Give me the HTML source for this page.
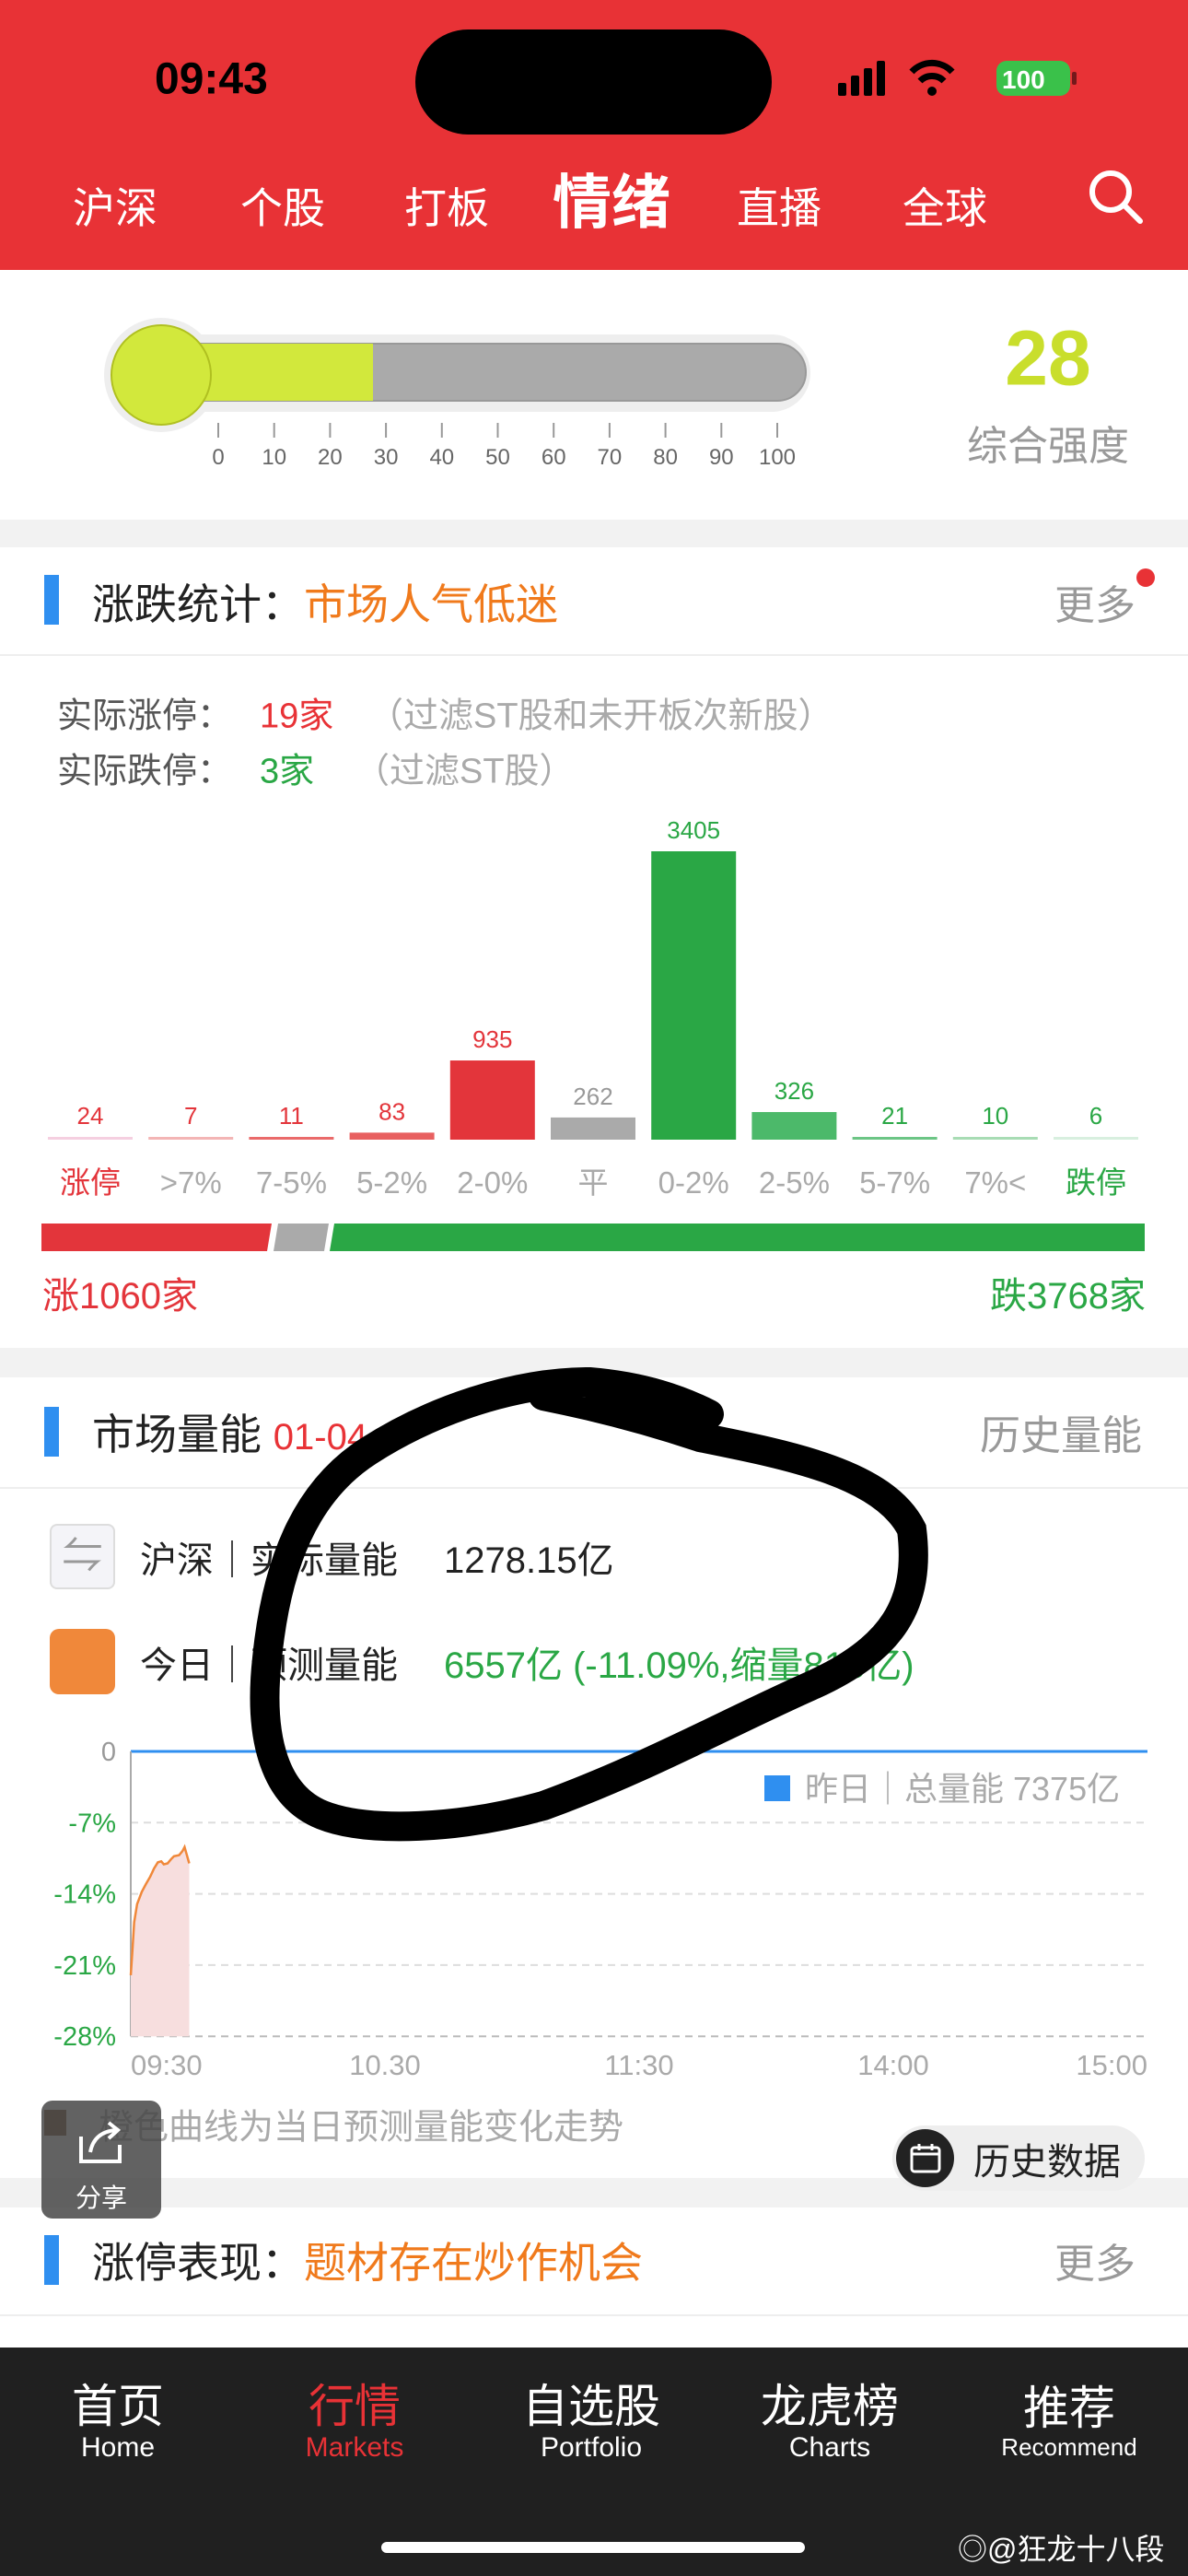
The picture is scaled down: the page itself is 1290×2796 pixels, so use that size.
<!DOCTYPE html>
<html><head><meta charset="utf-8">
<style>
*{margin:0;padding:0;box-sizing:border-box}
body{width:1290px;height:2796px;position:relative;overflow:hidden;background:#f2f2f2;font-family:"Liberation Sans","Noto Sans CJK SC",sans-serif}
.a{position:absolute;white-space:nowrap}
.card{position:absolute;left:0;width:1290px;background:#fff}
.vc{transform:translateY(-50%)}
.cc{transform:translate(-50%,-50%)}
</style></head><body>
<div class="a" style="left:0;top:0;width:1290px;height:293px;background:#e83236"></div>
<div class="a vc" style="left:168px;top:86px;font-size:48px;font-weight:bold;color:#000">09:43</div>
<div class="a" style="left:451px;top:32px;width:387px;height:114px;border-radius:57px;background:#000"></div>
<svg class="a" style="left:910px;top:62px" width="270" height="50">
<rect x="0" y="28" width="9" height="14" rx="2" fill="#000"/><rect x="14" y="20" width="9" height="22" rx="2" fill="#000"/><rect x="28" y="12" width="9" height="30" rx="2" fill="#000"/><rect x="42" y="4" width="9" height="38" rx="2" fill="#000"/>
<path d="M80 16 A30 30 0 0 1 124 16" stroke="#000" stroke-width="7" fill="none"/><path d="M89 26 A18 18 0 0 1 115 26" stroke="#000" stroke-width="7" fill="none"/><circle cx="102" cy="37" r="5" fill="#000"/>
<rect x="172" y="4" width="80" height="38" rx="11" fill="#3ac14a"/><rect x="254" y="16" width="5" height="14" rx="2" fill="#000" opacity=".5"/>
<text x="178" y="34" font-size="28" font-weight="bold" fill="#fff" font-family="Liberation Sans">100</text></svg>
<div class="a cc" style="left:125px;top:223px;font-size:46px;color:#fff">沪深</div>
<div class="a cc" style="left:307px;top:223px;font-size:46px;color:#fff">个股</div>
<div class="a cc" style="left:485px;top:223px;font-size:46px;color:#fff">打板</div>
<div class="a cc" style="left:664px;top:215px;font-size:64px;font-weight:bold;color:#fff">情绪</div>
<div class="a cc" style="left:846px;top:223px;font-size:46px;color:#fff">直播</div>
<div class="a cc" style="left:1026px;top:223px;font-size:46px;color:#fff">全球</div>
<svg class="a" style="left:1178px;top:180px" width="70" height="70"><circle cx="28" cy="28" r="20" stroke="#fff" stroke-width="6" fill="none"/><line x1="43" y1="43" x2="60" y2="60" stroke="#fff" stroke-width="6" stroke-linecap="round"/></svg>

<div class="card" style="top:293px;height:271px"></div>
<svg class="a" style="left:0;top:293px" width="1000" height="240">
<rect x="168" y="70" width="712" height="84" rx="42" fill="#eee"/>
<circle cx="175" cy="114" r="62" fill="#eee"/>
<rect x="175" y="80" width="700" height="62" rx="31" fill="#aaa" stroke="#999" stroke-width="2"/>
<rect x="175" y="80" width="230" height="62" fill="#d2e83c"/>
<circle cx="175" cy="114" r="54" fill="#d2e83c" stroke="#b0c020" stroke-width="2"/>
<g id="ticks"></g>
</svg>
<div class="a cc" style="left:1138px;top:389px;font-size:84px;font-weight:bold;color:#c9de2c">28</div>
<div class="a cc" style="left:1138px;top:480px;font-size:44px;color:#999">综合强度</div>

<div class="card" style="top:594px;height:869px"></div>
<div class="a" style="left:48px;top:624px;width:16px;height:54px;background:#2f8ff0"></div>
<div class="a vc" style="left:100px;top:653px;font-size:46px;color:#222">涨跌统计：<span style="color:#f07a1c">市场人气低迷</span></div>
<div class="a vc" style="left:1145px;top:653px;font-size:44px;color:#999">更多</div>
<div class="a" style="left:1234px;top:617px;width:20px;height:20px;border-radius:10px;background:#e83236"></div>
<div class="a" style="left:0;top:710px;width:1290px;height:2px;background:#eee"></div>
<div class="a vc" style="left:62px;top:773px;font-size:38px;color:#555">实际涨停：</div>
<div class="a vc" style="left:282px;top:773px;font-size:38px;color:#e83236">19家</div>
<div class="a vc" style="left:400px;top:773px;font-size:38px;color:#aaa">（过滤ST股和未开板次新股）</div>
<div class="a vc" style="left:62px;top:833px;font-size:38px;color:#555">实际跌停：</div>
<div class="a vc" style="left:282px;top:833px;font-size:38px;color:#2aa745">3家</div>
<div class="a vc" style="left:385px;top:833px;font-size:38px;color:#aaa">（过滤ST股）</div>
<svg class="a" id="bars" style="left:0;top:880px" width="1290" height="440"></svg>
<div class="a" style="left:45px;top:1328px;width:1198px;height:30px">
<svg width="1198" height="30"><polygon points="0,0 250,0 245,30 0,30" fill="#e3353b"/><polygon points="257,0 312,0 307,30 252,30" fill="#aaa"/><polygon points="318,0 1198,0 1198,30 313,30" fill="#2aa745"/></svg></div>
<div class="a vc" style="left:46px;top:1403px;font-size:40px;color:#e3353b">涨1060家</div>
<div class="a vc" style="right:46px;top:1403px;font-size:40px;color:#2aa745">跌3768家</div>

<div class="card" style="top:1495px;height:869px"></div>
<div class="a" style="left:48px;top:1527px;width:16px;height:54px;background:#2f8ff0"></div>
<div class="a vc" style="left:100px;top:1554px;font-size:46px;color:#222">市场量能 <span style="color:#e83236;font-size:40px">01-04</span></div>
<div class="a vc" style="right:50px;top:1554px;font-size:44px;color:#999">历史量能</div>
<div class="a" style="left:0;top:1614px;width:1290px;height:2px;background:#eee"></div>
<div class="a" style="left:54px;top:1654px;width:71px;height:71px;border:2px solid #ddd;border-radius:8px;background:#f4f4f8;color:#999;font-size:44px;text-align:center;line-height:66px">⇋</div>
<div class="a vc" style="left:152px;top:1690px;font-size:40px;color:#222">沪深｜实际量能</div>
<div class="a vc" style="left:482px;top:1690px;font-size:40px;color:#222">1278.15亿</div>
<div class="a" style="left:54px;top:1768px;width:71px;height:71px;border-radius:10px;background:#f0883a"></div>
<div class="a vc" style="left:152px;top:1804px;font-size:40px;color:#222">今日｜预测量能</div>
<div class="a vc" style="left:482px;top:1804px;font-size:40px;color:#2aa745">6557亿 (-11.09%,缩量818亿)</div>
<svg class="a" id="line" style="left:0;top:1860px" width="1290" height="410"></svg>
<div class="a" style="left:48px;top:2290px;width:24px;height:28px;background:#7a4f30"></div>
<div class="a vc" style="left:107px;top:2305px;font-size:38px;color:#aaa">橙色曲线为当日预测量能变化走势</div>

<div class="card" style="top:2396px;height:152px"></div>
<div class="a" style="left:48px;top:2426px;width:16px;height:54px;background:#2f8ff0"></div>
<div class="a vc" style="left:100px;top:2453px;font-size:46px;color:#222">涨停表现：<span style="color:#f07a1c">题材存在炒作机会</span></div>
<div class="a vc" style="left:1145px;top:2453px;font-size:44px;color:#999">更多</div>
<div class="a" style="left:0;top:2512px;width:1290px;height:2px;background:#eee"></div>

<div class="a" style="left:45px;top:2280px;width:130px;height:128px;border-radius:12px;background:rgba(70,70,70,.85);z-index:5">
<svg style="position:absolute;left:35px;top:14px" width="60" height="60"><path d="M8 25 V52 H50 V34" stroke="#fff" stroke-width="4" fill="none"/><path d="M18 42 Q22 20 46 18 M38 10 L48 18 L38 27" stroke="#fff" stroke-width="4" fill="none"/></svg>
<div class="a cc" style="left:65px;top:104px;font-size:28px;color:#fff">分享</div></div>
<div class="a" style="left:969px;top:2307px;width:274px;height:71px;border-radius:36px;background:#eee;z-index:5">
<div class="a" style="left:4px;top:4px;width:63px;height:63px;border-radius:32px;background:#222"></div>
<svg class="a" style="left:18px;top:18px" width="36" height="36"><rect x="3" y="6" width="30" height="26" rx="3" stroke="#fff" stroke-width="3" fill="none"/><line x1="3" y1="13" x2="33" y2="13" stroke="#fff" stroke-width="3"/><line x1="11" y1="2" x2="11" y2="9" stroke="#fff" stroke-width="3"/><line x1="25" y1="2" x2="25" y2="9" stroke="#fff" stroke-width="3"/></svg>
<div class="a vc" style="left:88px;top:36px;font-size:40px;color:#222">历史数据</div></div>

<div class="a" style="left:0;top:2548px;width:1290px;height:248px;background:#202020"></div>
<div class="a cc" style="left:128px;top:2629px;text-align:center;color:#fff;line-height:1.1"><div style="font-size:50px">首页</div><div style="font-size:30px">Home</div></div>
<div class="a cc" style="left:385px;top:2629px;text-align:center;color:#e83236;line-height:1.1"><div style="font-size:50px">行情</div><div style="font-size:30px">Markets</div></div>
<div class="a cc" style="left:642px;top:2629px;text-align:center;color:#fff;line-height:1.1"><div style="font-size:50px">自选股</div><div style="font-size:30px">Portfolio</div></div>
<div class="a cc" style="left:901px;top:2629px;text-align:center;color:#fff;line-height:1.1"><div style="font-size:50px">龙虎榜</div><div style="font-size:30px">Charts</div></div>
<div class="a cc" style="left:1161px;top:2629px;text-align:center;color:#fff;line-height:1.1"><div style="font-size:50px">推荐</div><div style="font-size:26px">Recommend</div></div>
<div class="a" style="left:414px;top:2759px;width:460px;height:12px;border-radius:6px;background:#fff"></div>
<div class="a vc" style="left:1040px;top:2765px;font-size:32px;color:#fff">◎@狂龙十八段</div>

<svg class="a" style="left:0;top:0;z-index:6" width="1290" height="2796">
<path d="M590 1515 C640 1525 700 1540 760 1560 C860 1580 960 1600 990 1660 C1000 1740 970 1790 880 1830 C790 1870 700 1920 590 1960 C500 1985 400 1990 350 1970 C300 1950 280 1890 290 1800 C300 1700 330 1620 400 1575 C470 1530 560 1500 640 1500 C700 1505 740 1520 770 1535" stroke="#000" stroke-width="32" fill="none" stroke-linecap="round"/>
</svg>

<script>
const thermoTicks=[0,10,20,30,40,50,60,70,80,90,100];
const tg=document.getElementById('ticks');
const NS='http://www.w3.org/2000/svg';
thermoTicks.forEach(function(t){
  const x=237+t*6.07;
  const l=document.createElementNS(NS,'line');
  
  
  l.setAttribute('x1',x);l.setAttribute('x2',x);l.setAttribute('y1',166);l.setAttribute('y2',182);l.setAttribute('stroke','#999');l.setAttribute('stroke-width','2');
  tg.appendChild(l);
  const tx=document.createElementNS(NS,'text');
  
  
  tx.setAttribute('x',x);tx.setAttribute('y',211);tx.setAttribute('text-anchor','middle');tx.setAttribute('font-size','24');tx.setAttribute('fill','#666');
  tx.textContent=t;tg.appendChild(tx);
});
</script>
<script>
const categories=['涨停','>7%','7-5%','5-2%','2-0%','平','0-2%','2-5%','5-7%','7%<','跌停'];
const counts=[24,7,11,83,935,262,3405,326,21,10,6];
const barColors=['#f5cfe0','#f3b5b5','#ea6a6a','#e86060','#e3353b','#aaa','#2aa745','#4cb96a','#6cc585','#a8dcb4','#d8efdf'];
const labelColors=['#e3353b','#e3353b','#e3353b','#e3353b','#e3353b','#999','#2aa745','#2aa745','#2aa745','#2aa745','#2aa745'];
const catColors=['#e3353b','#aaa','#aaa','#aaa','#aaa','#aaa','#aaa','#aaa','#aaa','#aaa','#2aa745'];
(function(){
  const svg=document.getElementById('bars');
  const base=357, scale=313/3405;
  const xc=function(i){return 98+i*109.2;};
  counts.forEach(function(v,i){
    const h=Math.max(v*scale,3);
    const r=document.createElementNS(NS,'rect');
    
    
    r.setAttribute('x',xc(i)-46);r.setAttribute('y',base-h);r.setAttribute('width',92);r.setAttribute('height',h);r.setAttribute('fill',barColors[i]);
    svg.appendChild(r);
    const t=document.createElementNS(NS,'text');
    
    
    t.setAttribute('x',xc(i));t.setAttribute('y',base-h-14);t.setAttribute('text-anchor','middle');t.setAttribute('font-size','26');t.setAttribute('fill',labelColors[i]);
    t.textContent=v;svg.appendChild(t);
    const c=document.createElementNS(NS,'text');
    
    
    c.setAttribute('x',xc(i));c.setAttribute('y',415);c.setAttribute('text-anchor','middle');c.setAttribute('font-size','33');c.setAttribute('fill',catColors[i]);
    c.textContent=categories[i];svg.appendChild(c);
  });
})();
</script>
<script>
const yTicks=[0,-7,-14,-21,-28];
const xTickLabels=['09:30','10.30','11:30','14:00','15:00'];
const xTickMinutes=[0,60,120,180,240];
const seriesMinutes=[0,0.4,0.8,1.5,2.6,3.5,4.6,5.5,6.4,7.2,7.8,8.7,9.5,10.2,11.4,12.2,12.7,13.8];
const seriesPct=[-22,-19.5,-16.8,-15,-13.8,-13.1,-12.3,-11.5,-10.9,-10.8,-11.1,-11.0,-10.6,-10.3,-10.2,-9.8,-9.4,-11.0];
(function(){
  const svg=document.getElementById('line');
  const L=142,R=1246,y0=41,px=77.3/7;
  const X=function(m){return L+m*(R-L)/240;};
  const Y=function(p){return y0-p*px;};
  yTicks.forEach(function(t){
    const l=document.createElementNS(NS,'line');
    
    
    l.setAttribute('x1',L);l.setAttribute('x2',R);l.setAttribute('y1',Y(t));l.setAttribute('y2',Y(t));
    if(t===0){l.setAttribute('stroke','#2f8ff0');l.setAttribute('stroke-width','3');}
    else{l.setAttribute('stroke',t===-28?'#bbb':'#ddd');l.setAttribute('stroke-width','2');l.setAttribute('stroke-dasharray','8 6');}
    svg.appendChild(l);
    const tx=document.createElementNS(NS,'text');
    
    
    tx.setAttribute('x',L-16);tx.setAttribute('y',Y(t)+10);tx.setAttribute('text-anchor','end');tx.setAttribute('font-size','29');tx.setAttribute('fill',t===0?'#999':'#2aa745');
    tx.textContent=t===0?'0':t+'%';svg.appendChild(tx);
  });
  const ax=document.createElementNS(NS,'line');
  
  
  ax.setAttribute('x1',L);ax.setAttribute('x2',L);ax.setAttribute('y1',Y(0));ax.setAttribute('y2',Y(-28));ax.setAttribute('stroke','#aaa');ax.setAttribute('stroke-width','2');
  svg.appendChild(ax);
  xTickLabels.forEach(function(s,i){
    const tx=document.createElementNS(NS,'text');
    
    
    const anchor=i===0?'start':(i===xTickLabels.length-1?'end':'middle');
    tx.setAttribute('x',X(xTickMinutes[i]));tx.setAttribute('y',392);tx.setAttribute('text-anchor',anchor);tx.setAttribute('font-size','31');tx.setAttribute('fill','#aaa');
    tx.textContent=s;svg.appendChild(tx);
  });
  let d='',fd='M'+X(seriesMinutes[0])+' '+Y(-28);
  seriesMinutes.forEach(function(m,i){d+=(i?'L':'M')+X(m)+' '+Y(seriesPct[i]);fd+='L'+X(m)+' '+Y(seriesPct[i]);});
  fd+='L'+X(seriesMinutes[seriesMinutes.length-1])+' '+Y(-28)+'Z';
  const f=document.createElementNS(NS,'path');
  
  
  f.setAttribute('d',fd);f.setAttribute('fill','#f7dede');svg.appendChild(f);
  const p=document.createElementNS(NS,'path');
  
  
  p.setAttribute('d',d);p.setAttribute('fill','none');p.setAttribute('stroke','#f0883a');p.setAttribute('stroke-width','2.5');svg.appendChild(p);
  const lg=document.createElementNS(NS,'rect');
  
  
  lg.setAttribute('x',830);lg.setAttribute('y',67);lg.setAttribute('width',28);lg.setAttribute('height',28);lg.setAttribute('fill','#2f8ff0');svg.appendChild(lg);
  const lt=document.createElementNS(NS,'text');
  
  
  lt.setAttribute('x',874);lt.setAttribute('y',94);lt.setAttribute('text-anchor','start');lt.setAttribute('font-size','36');lt.setAttribute('fill','#aaa');
  lt.textContent='昨日｜总量能 7375亿';svg.appendChild(lt);
})();
</script>
</body></html>
